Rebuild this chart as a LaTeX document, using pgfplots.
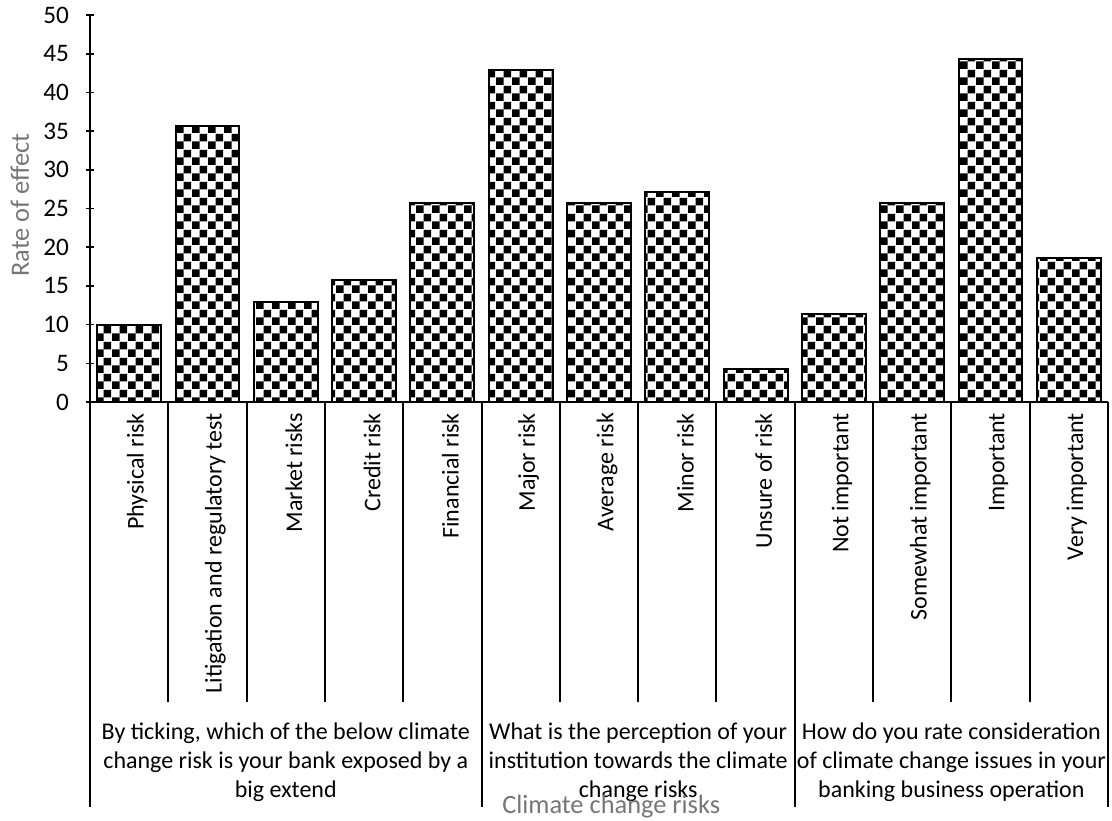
\documentclass[border=0pt]{standalone}
\usepackage{fontspec}
\setmainfont{Carlito}
\usepackage{pgfplots}
\pgfplotsset{compat=1.18}
\usetikzlibrary{patterns.meta}

\definecolor{titlegray}{RGB}{118,118,118}

% coarse checkerboard like the spreadsheet fill
\tikzdeclarepattern{
  name=bigcheck,
  type=uncolored,
  bounding box={(0,0) and (8pt,8pt)},
  tile size={(8pt,8pt)},
  code={
    \fill (0,0) rectangle (4pt,4pt);
    \fill (4pt,4pt) rectangle (8pt,8pt);
  }
}

\begin{document}
\begin{tikzpicture}
\useasboundingbox (-45pt,-209pt) rectangle (511pt,201pt);
\begin{axis}[
    at={(0,0)}, anchor=south west,
    scale only axis,
    width=509pt, height=193.5pt,
    xmin=0.5, xmax=13.5,
    ymin=0, ymax=50,
    ytick={0,5,...,50},
    xtick={1,...,13},
    xticklabels={Physical risk, Litigation and regulatory test, Market risks,
      Credit risk, Financial risk, Major risk, Average risk, Minor risk,
      Unsure of risk, Not important, Somewhat important, Important, Very important},
    x tick label style={rotate=90, anchor=east, yshift=-4pt,
      font=\fontsize{12}{14.5}\selectfont},
    xtick style={draw=none},
    ytick style={black, line width=0.8pt},
    tick align=outside,
    major tick length=4pt,
    y tick label style={xshift=-5pt, font=\fontsize{12.6}{15}\selectfont},
    axis x line=bottom,
    axis y line=left,
    axis line style={black, line width=1pt, -},
    /pgf/number format/assume math mode=true,
    ylabel={Rate of effect},
    ylabel style={font=\fontsize{13.2}{16}\selectfont, text=titlegray,
      at={(axis description cs:-0.0688,0.509)}, anchor=center, rotate=0},
    xlabel={Climate change risks},
    xlabel style={font=\fontsize{13.2}{16}\selectfont, text=titlegray,
      at={(axis description cs:0.512,-1.045)}, anchor=center},
    clip=false,
]
\addplot[ybar, bar width=0.815, draw=black, line width=1pt,
  pattern={bigcheck}, pattern color=black] coordinates {
  (1,10.0) (2,35.7) (3,12.9) (4,15.7) (5,25.7)
  (6,42.9) (7,25.7) (8,27.1) (9,4.3)
  (10,11.4) (11,25.7) (12,44.3) (13,18.6)
};
% category dividers
\pgfplotsinvokeforeach{1.5,2.5,3.5,4.5,6.5,7.5,8.5,10.5,11.5,12.5}{
  \draw[black, line width=1pt] (axis cs:#1,0) -- (axis cs:#1,-38.8);
}
% group dividers
\pgfplotsinvokeforeach{0.5,5.5,9.5,13.5}{
  \draw[black, line width=1pt] (axis cs:#1,0) -- (axis cs:#1,-52.3);
}
% group labels
\node[align=center, font=\fontsize{12}{14.5}\selectfont] at (axis cs:3,-46.5)
  {By ticking, which of the below climate\\change risk is your bank exposed by a\\big extend};
\node[align=center, font=\fontsize{12}{14.5}\selectfont] at (axis cs:7.5,-46.5)
  {What is the perception of your\\institution towards the climate\\change risks};
\node[align=center, font=\fontsize{12}{14.5}\selectfont] at (axis cs:11.5,-46.5)
  {How do you rate consideration\\of climate change issues in your\\banking business operation};
\end{axis}
\end{tikzpicture}
\end{document}
